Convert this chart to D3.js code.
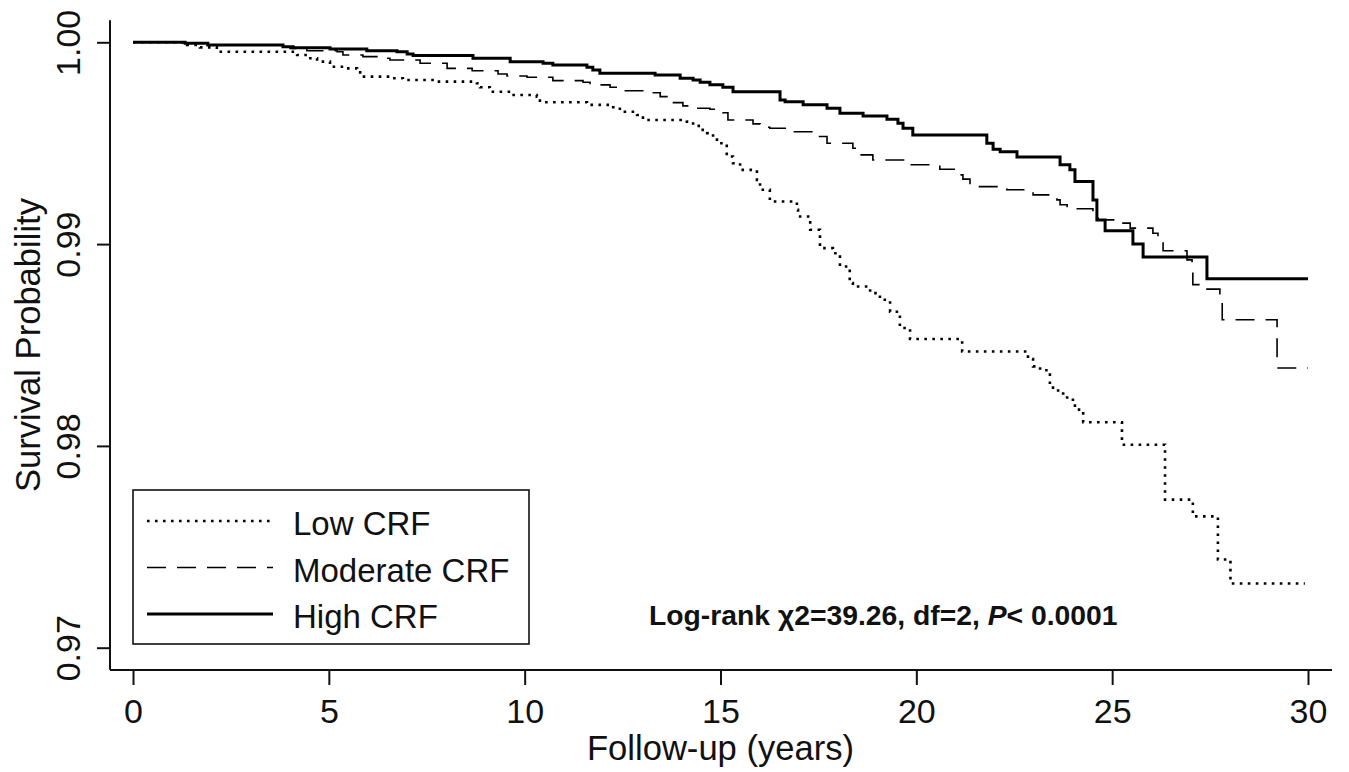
<!DOCTYPE html>
<html>
<head>
<meta charset="utf-8">
<script src="https://cdn.jsdelivr.net/npm/d3@7"></script>
<style>
  body { margin: 0; background: #fff; }
  svg { display: block; font-family: "Liberation Sans", Arial, sans-serif; }
</style>
</head>
<body>
<div id="chart"></div>
<script>
// Kaplan-Meier steps: time (years) and survival after the step
var lowTime  = [0, 1.38, 1.71, 2.14, 4.19, 4.44, 4.70, 5.03, 5.46, 5.72, 5.80, 6.64, 6.89, 7.76, 8.78, 8.86, 9.11, 9.68, 10.31, 10.39,
                11.59, 12.26, 12.43, 12.87, 13.02, 14.14, 14.30, 14.48, 14.66, 14.81, 14.91, 15.16, 15.32, 15.50, 15.93, 16.01, 16.26,
                16.95, 16.98, 17.29, 17.54, 17.87, 18.05, 18.30, 18.38, 18.82, 19.07, 19.33, 19.58, 19.84, 21.17, 22.85, 22.98, 23.16,
                23.36, 23.41, 23.62, 23.85, 24.05, 24.26, 25.25, 26.35, 27.06, 27.70, 28.02, 29.92];
var lowSurv  = [1, 0.99987, 0.99975, 0.99953, 0.99937, 0.99921, 0.99904, 0.99879, 0.99871, 0.99851, 0.99830, 0.99822, 0.99813, 0.99805, 0.99797, 0.99777, 0.99755, 0.99739, 0.99731, 0.99703,
                0.99690, 0.99678, 0.99656, 0.99640, 0.99615, 0.99607, 0.99586, 0.99566, 0.99550, 0.99530, 0.99500, 0.99434, 0.99401, 0.99368, 0.99318, 0.99269, 0.99211,
                0.99170, 0.99137, 0.99071, 0.98980, 0.98955, 0.98889, 0.98807, 0.98790, 0.98757, 0.98724, 0.98665, 0.98584, 0.98530, 0.98468, 0.98430, 0.98394, 0.98375,
                0.98353, 0.98289, 0.98260, 0.98229, 0.98180, 0.98117, 0.98006, 0.97734, 0.97651, 0.97437, 0.97318, 0.97318];

var modTime  = [0, 1.33, 1.91, 3.83, 4.01, 4.44, 5.21, 5.36, 5.87, 6.31, 6.56, 7.33, 8.02, 8.66, 9.32, 9.55, 10.06, 10.72, 11.49, 11.67,
                12.18, 12.36, 13.20, 13.46, 13.72, 14.04, 14.30, 14.73, 15.06, 15.19, 15.83, 16.01, 16.26, 16.77, 17.36, 17.72, 18.38,
                18.48, 18.89, 19.84, 20.60, 21.11, 21.19, 21.37, 22.31, 22.98, 23.59, 23.67, 23.85, 24.51, 24.64, 25.07, 25.46, 26.04,
                26.17, 26.30, 26.91, 27.04, 27.06, 27.29, 27.75, 27.81, 29.21, 30];
var modSurv  = [1, 0.99995, 0.99987, 0.99978, 0.99970, 0.99958, 0.99953, 0.99937, 0.99929, 0.99921, 0.99912, 0.99896, 0.99871, 0.99859, 0.99843, 0.99833, 0.99827, 0.99810, 0.99802, 0.99789,
                0.99777, 0.99760, 0.99750, 0.99731, 0.99701, 0.99685, 0.99673, 0.99668, 0.99651, 0.99615, 0.99596, 0.99579, 0.99574, 0.99557, 0.99533, 0.99500, 0.99475,
                0.99442, 0.99417, 0.99393, 0.99371, 0.99343, 0.99322, 0.99285, 0.99269, 0.99244, 0.99219, 0.99195, 0.99175, 0.99137, 0.99120, 0.99104, 0.99079, 0.99054,
                0.99021, 0.98967, 0.98922, 0.98873, 0.98799, 0.98777, 0.98716, 0.98625, 0.98386, 0.98386];

var highTime = [0, 1.33, 1.91, 3.83, 4.09, 5.03, 5.97, 6.74, 7.00, 7.15, 8.68, 9.63, 10.47, 10.72, 11.59, 11.74, 11.92, 13.33, 13.97, 14.30,
                14.48, 14.73, 15.06, 15.32, 16.52, 16.65, 17.11, 17.72, 18.05, 18.64, 19.25, 19.53, 19.66, 19.91, 21.80, 21.96, 22.14,
                22.57, 23.67, 23.92, 24.05, 24.51, 24.61, 24.82, 25.53, 25.79, 27.42, 30];
var highSurv = [1, 0.99995, 0.99987, 0.99978, 0.99973, 0.99967, 0.99958, 0.99953, 0.99942, 0.99934, 0.99921, 0.99904, 0.99896, 0.99888, 0.99876, 0.99863, 0.99847, 0.99838, 0.99822, 0.99813,
                0.99802, 0.99790, 0.99777, 0.99755, 0.99714, 0.99706, 0.99690, 0.99673, 0.99649, 0.99635, 0.99619, 0.99599, 0.99574, 0.99541, 0.99500, 0.99470, 0.99458,
                0.99431, 0.99393, 0.99368, 0.99310, 0.99219, 0.99120, 0.99066, 0.99000, 0.98936, 0.98828, 0.98828];

var seriesNames = ["Low CRF", "Moderate CRF", "High CRF"];
var xTicks = [0, 5, 10, 15, 20, 25, 30];
var yTicks = [0.97, 0.98, 0.99, 1.00];
var statLead = "Log-rank \u03c72=39.26, df=2, ";
var statP = "P";
var statTail = "< 0.0001";

const width = 1349, height = 772;
const ink = '#111';

var chart = d3.select('#chart')
    .append('svg')
    .attr('width', width)
    .attr('height', height);

var x = d3.scaleLinear().domain([0, 30]).range([133, 1308]);
var y = d3.scaleLinear().domain([0.97, 1.00]).range([647.7, 42.3]);

// y axis (Stata style, detached frame line)
var yAxis = chart.append('g')
    .attr('transform', 'translate(110,0)')
    .call(d3.axisLeft(y).tickValues(yTicks).tickSize(13).tickFormat(d3.format('.2f')));
yAxis.select('.domain').remove();
yAxis.selectAll('.tick line').attr('stroke', ink).attr('stroke-width', 2);
yAxis.selectAll('.tick text')
    .attr('x', null).attr('dy', null)
    .attr('transform', 'translate(-30,0) rotate(-90)')
    .attr('text-anchor', 'middle')
    .attr('fill', ink)
    .style('font-size', '34px');
chart.append('line')
    .attr('x1', 110).attr('x2', 110)
    .attr('y1', y(1.00) - 22).attr('y2', y(0.97) + 22)
    .attr('stroke', ink).attr('stroke-width', 2);

// x axis
var xAxis = chart.append('g')
    .attr('transform', 'translate(0,670)')
    .call(d3.axisBottom(x).tickValues(xTicks).tickSize(15));
xAxis.select('.domain').remove();
xAxis.selectAll('.tick line').attr('stroke', ink).attr('stroke-width', 2);
xAxis.selectAll('.tick text')
    .attr('y', 29).attr('dy', '0.71em')
    .attr('fill', ink)
    .style('font-size', '34px');
chart.append('line')
    .attr('x1', 110).attr('x2', x(30) + 24)
    .attr('y1', 670).attr('y2', 670)
    .attr('stroke', ink).attr('stroke-width', 2);

// axis titles
chart.append('text')
    .attr('transform', 'translate(40,' + ((y(1.00) + y(0.97)) / 2) + ') rotate(-90)')
    .attr('text-anchor', 'middle')
    .attr('fill', ink)
    .style('font-size', '34.6px')
    .text('Survival Probability');
chart.append('text')
    .attr('x', (x(0) + x(30)) / 2).attr('y', 760)
    .attr('text-anchor', 'middle')
    .attr('fill', ink)
    .style('font-size', '34.6px')
    .text('Follow-up (years)');

// curves
var styles = [
    { w: 2.6, dash: '2.6,5.4' },
    { w: 1.6, dash: '19,11' },
    { w: 3, dash: null }
];
var series = [
    d3.zip(lowTime, lowSurv),
    d3.zip(modTime, modSurv),
    d3.zip(highTime, highSurv)
];
var line = d3.line()
    .x(function(d) { return x(d[0]); })
    .y(function(d) { return y(d[1]); })
    .curve(d3.curveStepAfter);

chart.selectAll('.curve').data(series).enter()
    .append('path')
    .attr('class', 'curve')
    .attr('d', line)
    .attr('fill', 'none')
    .attr('stroke', '#000')
    .attr('stroke-width', function(d, i) { return styles[i].w; })
    .attr('stroke-dasharray', function(d, i) { return styles[i].dash; });

// legend
var legend = chart.append('g');
legend.append('rect')
    .attr('x', 133).attr('y', 490)
    .attr('width', 396).attr('height', 154)
    .attr('fill', '#fff')
    .attr('stroke', ink).attr('stroke-width', 1.6);
var rows = legend.selectAll('.row').data(seriesNames).enter()
    .append('g').attr('class', 'row')
    .attr('transform', function(d, i) { return 'translate(0,' + (535 + i * 46.5) + ')'; });
rows.append('line')
    .attr('x1', 147).attr('x2', 273)
    .attr('y1', -14).attr('y2', -14)
    .attr('stroke', '#000')
    .attr('stroke-width', function(d, i) { return styles[i].w; })
    .attr('stroke-dasharray', function(d, i) { return styles[i].dash; });
rows.append('text')
    .attr('x', 293).attr('y', 0)
    .attr('fill', ink)
    .style('font-size', '33px')
    .text(function(d) { return d; });

// log-rank annotation
var stat = chart.append('text')
    .attr('x', 649).attr('y', 625)
    .attr('fill', ink)
    .style('font-size', '28.3px')
    .style('font-weight', 'bold');
stat.append('tspan').text(statLead);
stat.append('tspan').style('font-style', 'italic').text(statP);
stat.append('tspan').text(statTail);
</script>
</body>
</html>
